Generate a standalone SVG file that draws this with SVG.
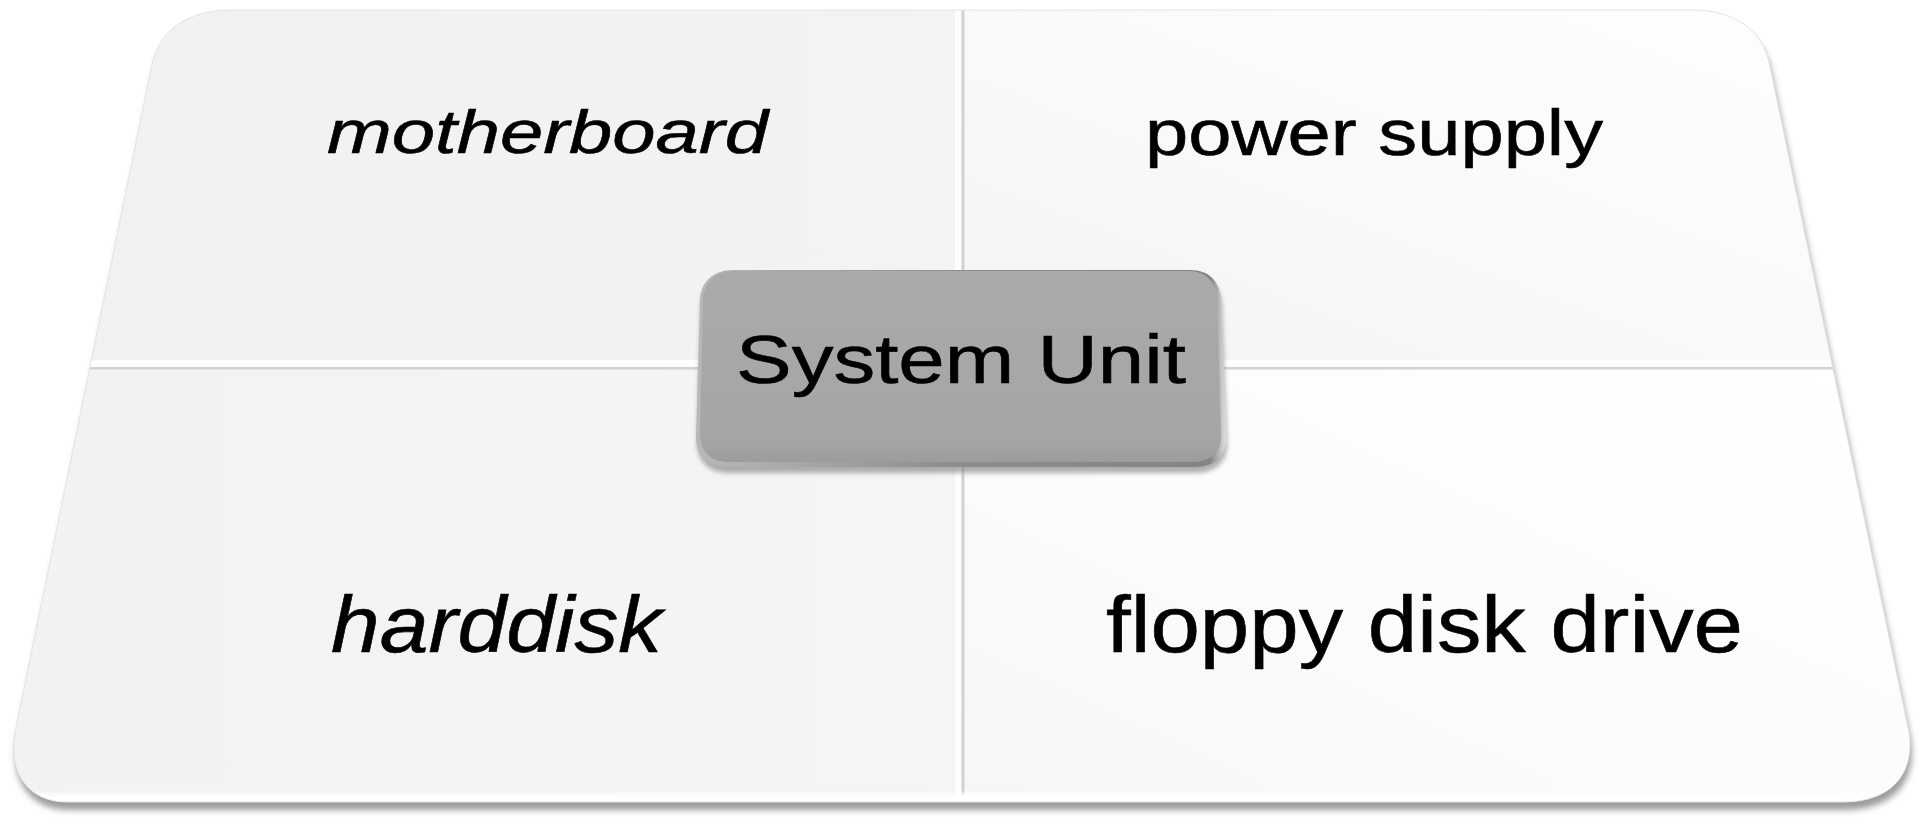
<svg xmlns="http://www.w3.org/2000/svg" width="1921" height="817" viewBox="0 0 1921 817">
  <defs>
    <style>
      .lbl { font-family: "Liberation Sans", Arial, sans-serif; fill: #000000; stroke: #000000; stroke-width: 0.6; }
      .it { font-style: italic; }
      .divw { fill: #ffffff; }
      .divg { fill: #d2d2d2; }
    </style>
    <path id="boardPath" d="M 232,10 L 1698,10 C 1740,12 1765,35 1770,67 L 1909,733 C 1915,775 1890,802 1843,802 L 67,802 C 30,802 8,775 15,733 L 153,60 C 162,28 190,10 232,10 Z"/>
    <clipPath id="boardClip"><use href="#boardPath"/></clipPath>
    <filter id="blur3" x="-5%" y="-5%" width="110%" height="120%"><feGaussianBlur stdDeviation="3"/></filter>
    <filter id="blur2" x="-10%" y="-10%" width="120%" height="130%"><feGaussianBlur stdDeviation="2.5"/></filter>
    <linearGradient id="gTL" x1="0" y1="0" x2="1" y2="0">
      <stop offset="0" stop-color="#f1f1f1"/><stop offset="1" stop-color="#f3f3f3"/>
    </linearGradient>
    <linearGradient id="gTR" x1="0" y1="1" x2="1" y2="0">
      <stop offset="0" stop-color="#f3f3f3"/><stop offset="0.45" stop-color="#f9f9f9"/><stop offset="1" stop-color="#ffffff"/>
    </linearGradient>
    <linearGradient id="gBL" x1="0" y1="0" x2="1" y2="0">
      <stop offset="0" stop-color="#f2f2f2"/><stop offset="1" stop-color="#f5f5f5"/>
    </linearGradient>
    <linearGradient id="gBR" x1="0" y1="1" x2="1" y2="0">
      <stop offset="0" stop-color="#f6f6f6"/><stop offset="0.5" stop-color="#fcfcfc"/><stop offset="1" stop-color="#ffffff"/>
    </linearGradient>
    <linearGradient id="gBevel" x1="0" y1="0" x2="0" y2="1">
      <stop offset="0" stop-color="#ffffff" stop-opacity="0"/><stop offset="0.5" stop-color="#ffffff"/><stop offset="1" stop-color="#ffffff"/>
    </linearGradient>
    <linearGradient id="gBox" x1="0" y1="0" x2="0" y2="1">
      <stop offset="0" stop-color="#aaaaaa"/><stop offset="0.9" stop-color="#a5a5a5"/><stop offset="1" stop-color="#9c9c9c"/>
    </linearGradient>
    <linearGradient id="gBoxEdge" x1="0" y1="0" x2="1" y2="0">
      <stop offset="0" stop-color="#b8b8b8"/><stop offset="0.5" stop-color="#8c8c8c"/><stop offset="0.97" stop-color="#848484"/><stop offset="1" stop-color="#e0e0e0"/>
    </linearGradient>
  </defs>

  <g id="board">
    <use href="#boardPath" fill="#9c9c9c" transform="translate(2,8)" filter="url(#blur3)"/>
    <use href="#boardPath" fill="#f3f3f3"/>
  </g>

  <g id="q-motherboard" clip-path="url(#boardClip)">
    <rect x="0" y="0" width="960" height="364" fill="url(#gTL)"/>
  </g>
  <g id="q-power-supply" clip-path="url(#boardClip)">
    <rect x="962" y="0" width="959" height="364" fill="url(#gTR)"/>
  </g>
  <g id="q-harddisk" clip-path="url(#boardClip)">
    <rect x="0" y="364" width="960" height="453" fill="url(#gBL)"/>
  </g>
  <g id="q-floppy" clip-path="url(#boardClip)">
    <rect x="962" y="364" width="959" height="453" fill="url(#gBR)"/>
  </g>

  <g id="dividers" clip-path="url(#boardClip)">
    <rect class="divw" x="955" y="0" width="6" height="817"/>
    <rect class="divg" x="961.5" y="0" width="3" height="817"/>
    <rect class="divw" x="0" y="360" width="1921" height="7"/>
    <rect class="divg" x="0" y="367" width="1921" height="2.5"/>
    <rect x="0" y="790" width="1921" height="13" fill="url(#gBevel)"/>
  </g>
  <use href="#boardPath" fill="none" stroke="#e4e4e4" stroke-width="1"/>

  <g id="labels">
    <text class="lbl it" x="327" y="153" font-size="62" textLength="441" lengthAdjust="spacingAndGlyphs">motherboard</text>
    <text class="lbl" x="1145" y="155" font-size="64" textLength="458" lengthAdjust="spacingAndGlyphs">power supply</text>
    <text class="lbl it" x="331" y="652" font-size="79" textLength="331" lengthAdjust="spacingAndGlyphs">harddisk</text>
    <text class="lbl" x="1106" y="652" font-size="79" textLength="637" lengthAdjust="spacingAndGlyphs">floppy disk drive</text>
  </g>

  <g id="system-unit">
    <path d="M 733,272 L 1190,272 C 1210,272 1220,284 1221,302 L 1226,439 C 1227,457 1215,469 1195,469 L 728,469 C 708,469 696,457 696,439 L 700,302 C 701,284 713,270 733,270 Z" fill="#7a7a7a" transform="translate(1,4)" filter="url(#blur2)" opacity="0.6"/>
    <path d="M 733,270 L 1190,270 C 1210,270 1220,282 1221,300 L 1226,437 C 1227,455 1215,467 1195,467 L 728,467 C 708,467 696,455 696,437 L 700,300 C 701,282 713,270 733,270 Z" fill="url(#gBoxEdge)"/>
    <path d="M 735,271 L 1188,271 C 1207,271 1216,283 1217,300 L 1221,434 C 1222,452 1211,462 1192,462 L 730,462 C 711,462 700,452 700,434 L 703,300 C 704,283 715,271 735,271 Z" fill="url(#gBox)"/>
    <text class="lbl" x="736" y="383" font-size="68" textLength="450" lengthAdjust="spacingAndGlyphs">System Unit</text>
  </g>
</svg>
